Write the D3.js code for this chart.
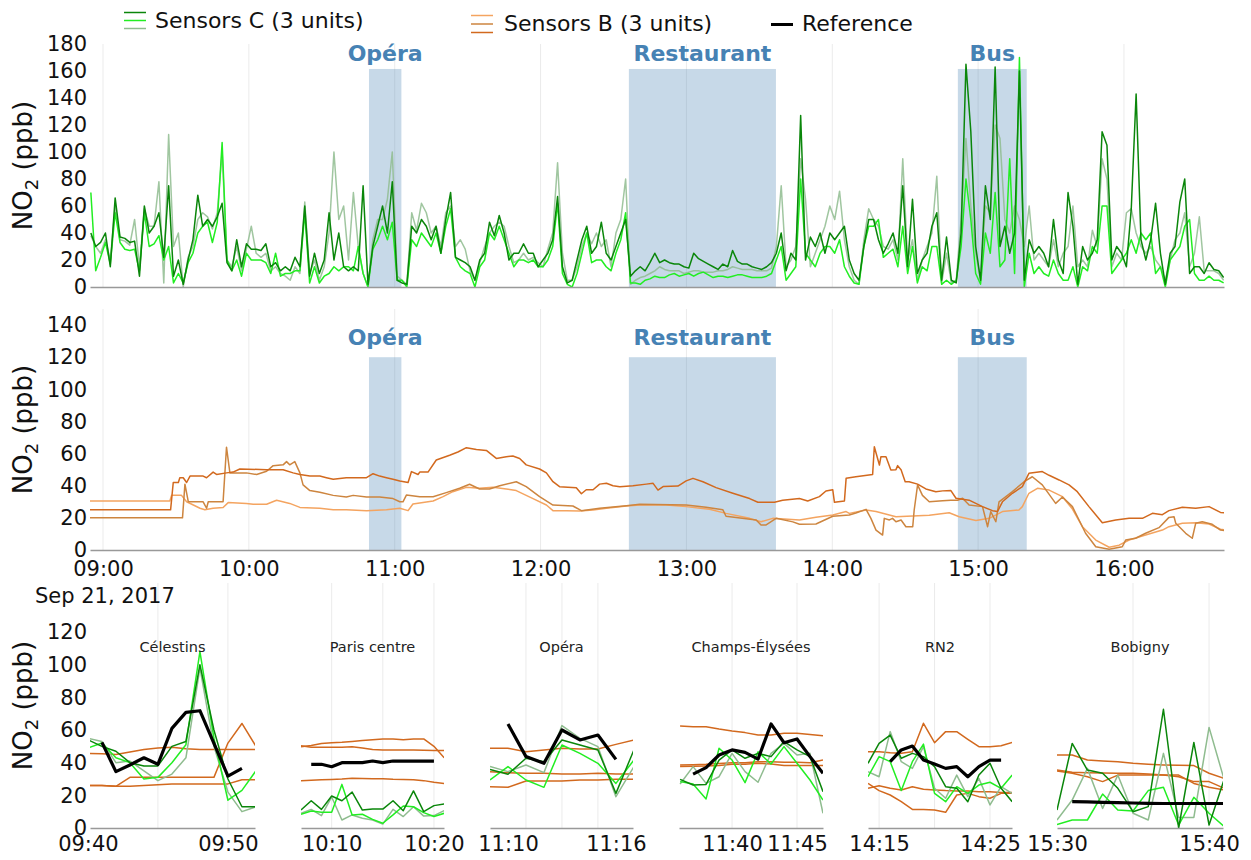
<!DOCTYPE html>
<html><head><meta charset="utf-8">
<script src="https://cdn.jsdelivr.net/npm/d3@7/dist/d3.min.js"></script>
<style>body{margin:0;background:#fff} svg{display:block}</style>
</head><body><svg id="c" width="1251" height="860"></svg>
<script>
// ---------------- DATA ----------------
// Top panel: Sensors C, one sample every 2 minutes starting 08:55
const topFirstSample = "08:55";
const topStepMinutes = 2;
const sensorC1 = [
40,30,33,40,15,66,37,36,33,34,8,60,40,45,55,
22,75,8,20,2,20,35,68,45,50,45,52,62,18,12,
35,15,32,28,28,27,32,15,18,12,15,12,22,15,60,
8,25,10,20,55,20,40,15,12,15,12,75,2,30,45,
60,40,78,5,3,2,45,40,50,45,35,45,25,50,70,
22,20,18,15,5,20,25,48,38,53,40,20,25,25,32,
25,25,15,20,25,35,67,15,3,5,20,35,45,25,30,
48,25,20,30,40,50,8,12,15,12,18,25,18,20,18,
17,17,15,14,25,21,19,17,15,13,17,15,27,19,17,
17,15,14,13,15,18,25,40,12,25,20,127,20,37,30,
40,25,40,35,40,45,20,10,5,30,50,50,35,25,32,
40,25,75,15,65,10,20,25,45,55,5,37,5,3,40,
165,115,30,5,75,50,163,30,45,25,40,160,5,35,25,
30,25,15,50,20,10,70,45,2,30,20,25,35,115,105,
20,30,25,15,58,143,35,20,35,62,25,2,25,30,63,
80,10,15,15,10,18,13,12,7];
const sensorC2 = [
70,12,22,33,17,55,33,28,27,28,12,55,30,32,38,
20,30,3,10,3,18,25,40,45,48,33,48,107,20,12,
20,8,25,20,20,20,18,10,25,8,10,10,12,12,55,
3,15,3,8,10,15,12,15,15,12,30,10,0,28,35,
45,35,48,5,5,0,35,30,40,35,30,40,25,45,58,
22,15,12,10,0,15,20,40,35,45,35,25,15,20,20,
18,20,15,15,20,30,62,10,2,0,10,25,40,18,20,
20,15,12,25,35,55,3,3,2,5,6,8,7,7,9,
10,8,9,10,8,10,11,9,7,8,8,7,8,9,9,
8,7,7,7,8,10,20,30,5,10,15,80,25,20,15,
25,30,30,25,35,15,8,3,2,30,45,45,50,22,25,
28,15,45,10,30,3,15,12,30,30,2,5,2,5,30,
80,50,10,2,40,25,70,15,20,95,10,170,0,25,10,
15,10,8,20,10,5,5,15,0,15,12,30,25,60,60,
10,15,20,25,35,25,40,35,40,10,15,0,20,25,30,
45,50,10,5,5,8,5,5,3];
const sensorC3 = [
38,30,25,35,20,60,35,34,31,50,15,58,45,45,78,
3,113,30,40,0,22,30,50,55,52,43,55,100,20,15,
30,12,28,45,25,22,25,12,15,10,8,5,15,10,63,
10,20,5,15,40,100,50,60,20,70,30,10,0,35,50,
50,65,100,8,5,2,55,42,62,55,40,45,30,55,60,
30,35,28,12,5,18,30,40,45,48,45,30,18,20,25,
20,22,18,15,28,40,92,25,5,5,15,30,40,32,40,
30,35,15,40,50,80,2,5,7,8,10,12,15,13,12,
12,12,10,11,12,12,11,11,11,12,12,13,15,14,13,
13,13,12,12,12,14,30,75,15,20,30,95,65,15,25,
35,45,60,50,71,35,15,5,2,35,58,50,45,30,28,
35,20,95,20,35,5,20,30,40,82,3,25,3,5,50,
110,60,25,5,60,55,120,110,50,40,60,50,30,60,20,
25,20,15,35,15,25,30,60,15,20,15,42,30,95,80,
15,25,20,55,58,40,30,25,30,20,15,5,20,35,40,
55,15,25,52,12,12,12,10,5];

// Middle panel: Sensors B, [minutes after 09:00, ppb]
const sensorB1 = [[-5.4,25],[27.8,25],[28.9,42],[31,42],[31.6,45],[33,45],[34.4,42],[35.8,46],[41.2,46],[42.6,45],[45.3,48.5],[46.7,47],[50.8,48],[53.5,48.5],[56.3,50.4],[67.3,50],[74.1,50],[78.2,48],[81,47],[85.1,46],[89.2,46],[91.9,45],[94.7,44],[100.1,45],[108.4,45],[111.1,47.5],[113.8,46],[116.6,45],[119.3,44],[122.1,43],[125.5,42],[126.9,48.8],[129.6,47],[130.3,48.5],[133.7,48.5],[137.1,56],[142.6,59],[146,61],[149.5,63.7],[153.6,62.5],[157.7,62],[161.8,57],[165.9,58],[168.6,58.5],[171.4,57],[174.1,53],[179.6,50.4],[182.4,48],[185.1,42.5],[187.8,39.4],[194.7,38.8],[196.8,35],[198.8,37.5],[201.6,37.5],[204.3,41],[207.1,41.5],[209.8,40],[212.6,39.4],[218,40],[223.5,41],[226.3,41.5],[228.3,37.3],[230.4,39.5],[236.5,39.8],[239.9,43],[242.7,44.6],[246.8,42.5],[252.2,38.8],[259.1,35.3],[266,32],[269.4,29.7],[276.2,29.7],[279.6,31],[286.5,32],[289.9,30.5],[294.7,33.2],[297.4,36.7],[300.2,37.5],[300.9,29.7],[305,30.5],[305.7,44.6],[309.7,45.6],[316.6,47],[317.3,64.3],[319.4,52.9],[320,58],[322.1,58],[324.1,49.8],[326.2,50],[326.9,52.5],[328.3,50],[330,42.5],[331.6,42.5],[335.1,41],[338.5,38],[342.6,36.3],[345.4,36.8],[348.8,37],[350.9,32.2],[356.3,31],[361.8,27],[365.9,24.5],[368,24],[370,30],[374.1,35.3],[378.2,39.4],[380.9,47.7],[386.4,48.8],[389.2,46.5],[393.3,43.6],[397.4,40.5],[400.8,36.3],[405.6,27],[411.1,17],[416.6,18.7],[422.1,19.7],[427.6,19.7],[431.7,22.8],[435.8,22],[438.5,24.5],[444,26.6],[449.5,26],[455,27],[459.7,23.4],[462,23]];
const sensorB2 = [[-5.4,20],[32.7,20],[33.7,41],[35.1,30],[41.2,30],[42.6,26],[43.3,30],[49.4,30],[50.8,64],[52.2,48],[59,48],[63.2,47],[67.3,49],[70,52.5],[74.1,53],[75.5,55],[76.8,53],[78.9,55],[81,48],[82.3,40.5],[85.1,37],[89.2,36],[94.7,34],[100.1,33],[102.9,34],[108.4,33],[113.8,33],[119.3,32],[122.1,30],[123.4,30],[124.8,34.2],[130.3,33.2],[135.8,33.2],[141.2,35.7],[146.7,38.4],[150.8,40.9],[154.9,38],[159,38],[163.2,40],[170,42.5],[174.1,39.4],[179.6,33.2],[185.1,28],[193.3,27.4],[196.8,24.5],[204.3,26],[215.3,27.6],[220.8,28.4],[239.9,28],[248.1,26.6],[255,25],[256.3,21],[268.7,18.7],[270.7,15.6],[272.8,15.6],[276.9,19.7],[283.8,17.5],[286.5,16],[293.3,16.2],[300.2,21],[307,21.8],[309.7,23],[313.9,25.3],[315.9,19.7],[318,12.4],[320.7,9.3],[321.4,19.7],[323.5,18.7],[324.8,19.7],[326.2,17.6],[328.3,18.7],[330.3,14.5],[333.1,14.5],[333.7,24.9],[335.1,40.5],[337.1,34],[339.9,30],[345.4,30.7],[348.8,31],[351.6,31],[353.6,32.2],[356.3,28],[361.8,27],[363.9,14.5],[365.2,23.9],[367.3,17.6],[368.6,30],[374.1,36.3],[378.9,42.5],[382.3,45.6],[386.4,40.5],[391.9,29],[394.7,33],[398.8,27],[404.2,10.4],[408.4,2],[413.9,0.4],[419.3,2],[420.7,6.2],[424.8,7.3],[428.9,10.4],[434.4,13.9],[438.5,20.3],[440.6,20.7],[441.3,16.6],[445.4,10.4],[448.1,7.3],[449.5,16.6],[452.2,17.6],[456.3,16],[459.7,12.4],[462,12]];
const sensorB3 = [[-5.4,30.5],[27.5,30.5],[28.2,34],[32.3,34],[34.4,30],[39.9,26],[41.9,25],[45.3,26],[49.4,26.5],[51.5,29.5],[59,29],[61.8,28.5],[67.3,28.5],[71.4,31],[72.7,30.5],[76.8,29],[81,26.5],[89.2,26],[94.7,25],[100.1,25],[108.4,24.5],[116.6,25],[122.1,26],[125.5,24.5],[127.5,28.6],[135.8,30.5],[139.9,33.2],[143.9,36.3],[149.5,39],[154.9,38.4],[160.4,39],[165.9,38],[170,37],[176.9,32],[182.4,28],[185.1,24.5],[190.6,24.5],[196.1,24.3],[201.6,24.9],[207.1,26],[215.3,27.4],[220.8,28],[231.7,28],[239.9,27],[249.5,25.3],[256.3,22.8],[266,19.7],[270.7,17.6],[275.5,19.7],[286.5,18.7],[293.3,20.4],[300.2,21.8],[305.7,23.9],[307,22.8],[313.9,24.9],[318,24],[326.2,20.7],[339.9,21.7],[348.1,23.2],[352.2,20.7],[359.1,18.3],[364.6,19.7],[370,23.9],[376.8,24.9],[378.2,27],[380.9,35.3],[384.4,38.4],[389.2,37.3],[394.7,33.2],[398.8,25.5],[402.9,14.5],[408.4,6.2],[413.9,1.7],[418,3],[422.1,6.2],[428.9,9.3],[435.8,12.4],[438.5,14.5],[444,16.6],[449.5,17],[455,16.2],[459.7,12.9],[462,12.5]];

// Activity periods
const eventNames = ["Opéra", "Restaurant", "Bus"];
const eventStart = ["10:49:25", "12:36:20", "14:51:40"];
const eventEnd   = ["11:02:45", "13:36:50", "15:20:00"];
const shadeTopValue = {top: 161.5, mid: 120};

const hourTicks = ["09:00","10:00","11:00","12:00","13:00","14:00","15:00","16:00"];
const mainDomain = ["08:54:39", "16:41:09"];
const topYTicks = [0,20,40,60,80,100,120,140,160,180];
const midYTicks = [0,20,40,60,80,100,120,140];
const botYTicks = [0,20,40,60,80,100,120];

// Bottom panels (one sample per minute)
const siteNames = ["Célestins","Paris centre","Opéra","Champs-Élysées","RN2","Bobigny"];
const siteDomain = [["09:40:09","09:51:56"],["10:07:00","10:20:59"],["11:09:00","11:16:57"],["11:35:55","11:47:00"],["14:14:00","14:26:59"],["15:30:00","15:40:55"]];
const siteFirstSample = ["09:40","10:07","11:09","11:36","14:14","15:30"];
const siteRefFirstSample = ["09:41","10:08","11:10","11:37","14:16","15:31"];
const siteTickLabels = [["09:40","09:50"],["10:10","10:20"],["11:10","11:16"],["11:40","11:45"],["14:15","14:25"],["15:30","15:40"]];
const siteGrid = [["09:45","09:50"],["10:10","10:15","10:20"],["11:11","11:13","11:15"],["11:40","11:45"],["14:15","14:20","14:25"],["15:35","15:40"]];
const siteC1 = [
 [54,50,47,40,38,38,50,53,100,60,30,13,13],
 [11,16.7,11.4,19.6,16.7,22,11,11.6,11.6,16.7,10.6,22.7,10,13.7,14.7],
 [35.9,32.9,42.7,40.6,53.9,50.8,47.8,21.2,47.8],
 [29.8,26.3,26.7,41.6,47.8,42.7,45.7,43.7,52.9,47.8,43.7,22.2],
 [39.6,51.8,56.9,42.7,45.7,43.7,37.6,25.3,24.3,16.1,32.4,39.6,24.3,16.1],
 [11,51.8,35.5,33.5,24.3,10,13.1,72.7,0,52.4,1.8,30]];
const siteC2 = [
 [49,52,43,40,30,31,40,51,108,55,17,23,35],
 [8.4,10.4,9.6,9.6,26.7,8,8.4,5.3,2.9,8,13.5,13,9.4,7,9],
 [29.4,37.6,29.4,24.9,50.8,45.7,39.6,27.3,41.6],
 [28.4,26.9,17.8,48.8,41.6,27.8,46.7,39.2,49.8,39.6,29.4,17.1],
 [31.4,43.7,40.6,22.9,40.6,51.4,21.2,16.1,25.3,21.2,26.3,28,24.3,32.4],
 [2.2,4.9,4.9,20.8,11,10.4,22.9,24.9,1.8,18.8,9,0.8]];
const siteC3 = [
 [55,53,40,41,35,29,33,43,98,50,22,10,13],
 [9,11.4,7.6,19,4.9,8,6,4.9,2.4,11.4,7,13,7.3,7.6,10.6],
 [37.6,34.5,38.6,33.9,62.7,54.9,49.8,19.2,37.6],
 [26.9,37.6,27.3,31.4,45.7,34.5,28,45.7,51.8,44.7,45.7,9],
 [34.5,31.4,59,40.6,36.5,49.8,24.3,18.2,32.4,19.2,30.4,14.1,25.3,21.2],
 [4.9,17.1,36.5,12,32.4,9,4.9,45.7,6.5,6.5,61.6,29.4]];
const siteB1 = [
 [45.7,45.5,45,46.5,48,49,49.5,48.5,48,48,48,48,48],
 [50.4,49.5,49.5,49.5,49.5,49.8,49,48,47.8,47.8,47.8,47.8,47.6,47.5,47.5],
 [48.8,48.8,46.7,47.8,48.8,48.4,48.4,51.2,53.9],
 [62.4,62,62,60.6,59.4,58.4,56.9,56.9,58,58,57.3,56.5],
 [46.7,46.7,46.1,45.7,46.7,64.1,52.2,59,59,54.3,49.8,49.8,50.4,52.4],
 [44.7,44.7,41.6,41,40.6,39.6,39,38.6,38.4,38.2,33.5,30.4]];
const siteB2 = [
 [26,26,25.5,31,31,31,31,31,31,31,52,64,50],
 [49.8,50.5,51.8,52.2,52.5,53,53.5,54,54.5,54.5,54,54.5,54.5,50,43],
 [34.5,33.9,33.5,33.5,33,33,33.5,33,33],
 [38.6,38.8,39,39.5,40,40,40.6,40.6,40.2,40.2,40,41.6],
 [27.3,22.9,20.2,16.1,11.4,11.4,11,9.6,20.2,21.2,19.2,18.2,21.2,21.2],
 [35.5,34.1,33.9,33.7,33.5,33.5,33,32.4,31.4,28.4,28.4,24.3]];
const siteB3 = [
 [26,26,25.5,25.5,26,26.5,27,27,27,27,27,29.5,29.5],
 [29,29.2,29.5,29.7,30,30.5,30.3,30.2,30.2,29.8,29.7,29.6,29,28,27.3],
 [25.3,24.9,28.8,28.8,28.8,29.4,29.4,29.8,29.8],
 [37.6,37.8,38,38.2,39,39,39.6,39.2,38.2,38.2,38.2,38.2],
 [24.3,25.9,24.3,23.3,25.3,23.7,23.3,22.9,22.7,22.7,22.2,22.2,21.8,21.8],
 [34.9,33.5,31.4,28.4,32.4,32.4,32.4,32.4,32.4,27.3,25,23.3]];
const siteRef = [
 [52.4,34.5,38.6,43,39,61,70.8,71.8,51.8,31.8,36.5],
 [39,39,37.5,40,40,40,41,40,41,41,41,41,41],
 [63.7,43.7,39.6,60,53.9,56.9,42],
 [33,37,44.7,47.8,46.3,42.2,63.7,52.2,54.5,43.7,33.5],
 [40.6,47.8,50.2,41.6,39.2,36.5,37.6,31.4,37.6,41.6,41.6],
 [16.1,16,15.7,15.5,15.3,15.1,15,15,15,15,15]];

const legendLabels = ["Sensors C (3 units)", "Sensors B (3 units)", "Reference"];

// ---------------- STYLE / LAYOUT ----------------
const FONT = '"DejaVu Sans", Verdana, sans-serif';
const colC = ["#0a860a", "#22ee22", "#8fbc8f"];
const colB = ["#d2691e", "#cd853f", "#f4a460"];
const shadeColor = "steelblue";
const gridColor = "#ebebeb";
const axisColor = "#999";
const tickFont = 21;
const plotX = [90, 1224];
const topY = [287, 44], midY = [550, 309], botY = [828, 583];
const panelX = [[90,255],[301,444],[490,633],[679,823],[868,1012],[1057,1223]];

// ---------------- HELPERS ----------------
const svg = d3.select("#c");
const T = s => { const p = s.split(":").map(Number); return new Date(2017, 8, 21, p[0], p[1], p[2] || 0); };
const addMin = (d, m) => new Date(d.getTime() + m * 60000);
let clipId = 0;
function clip(x0, x1, y0, y1) {
  const id = "clip" + (clipId++);
  svg.append("clipPath").attr("id", id).append("rect")
    .attr("x", x0).attr("y", y0).attr("width", x1 - x0).attr("height", y1 - y0);
  return "url(#" + id + ")";
}
function styleAxis(g, size) {
  g.attr("font-family", FONT).attr("font-size", size);
  g.selectAll("text").attr("fill", "#111");
}
function yAxis(y, ticks, x) {
  const g = svg.append("g").attr("transform", `translate(${x},0)`)
    .call(d3.axisLeft(y).tickValues(ticks).tickSize(0).tickPadding(3).tickFormat(d3.format("d")));
  g.select(".domain").remove();
  styleAxis(g, tickFont);
}
function yTitle(cy) {
  const t = svg.append("text").attr("transform", `translate(32,${cy}) rotate(-90)`)
    .attr("text-anchor", "middle").attr("font-family", FONT).attr("font-size", 26).attr("fill", "#111");
  t.append("tspan").text("NO");
  t.append("tspan").attr("font-size", 18).attr("dy", 6).text("2");
  t.append("tspan").attr("dy", -6).text(" (ppb)");
}

// ---------------- MAIN SCALES ----------------
const xMain = d3.scaleTime().domain(mainDomain.map(T)).range(plotX);
const yTop = d3.scaleLinear().domain([0, 180]).range(topY);
const yMid = d3.scaleLinear().domain([0, 150]).range(midY);
const yBot = d3.scaleLinear().domain([0, 150]).range(botY);

// ---------------- TOP & MIDDLE PANELS ----------------
function mainPanel(y, yr, shadeVal, labelY) {
  svg.append("g").selectAll("line").data(hourTicks.map(T)).join("line")
    .attr("x1", d => xMain(d)).attr("x2", d => xMain(d))
    .attr("y1", yr[1]).attr("y2", yr[0]).attr("stroke", gridColor).attr("stroke-width", 1);
  const g = svg.append("g");
  eventNames.forEach((n, i) => {
    const x0 = xMain(T(eventStart[i])), x1 = xMain(T(eventEnd[i]));
    g.append("rect").attr("x", x0).attr("width", x1 - x0)
      .attr("y", y(shadeVal)).attr("height", y(0) - y(shadeVal))
      .attr("fill", shadeColor).attr("opacity", 0.3);
    g.append("text").attr("x", (x0 + x1) / 2).attr("y", labelY).attr("text-anchor", "middle")
      .attr("font-family", FONT).attr("font-size", 22).attr("font-weight", "bold")
      .attr("fill", "steelblue").text(n);
  });
}

// Top
mainPanel(yTop, topY, shadeTopValue.top, 61);
const topClip = clip(plotX[0], plotX[1], topY[1] - 5, topY[0] + 1);
const t0 = T(topFirstSample);
const topSeries = [[sensorC3, colC[2], 0.85], [sensorC2, colC[1], 1], [sensorC1, colC[0], 1]];
const lineTop = d3.line().x((d, i) => xMain(addMin(t0, i * topStepMinutes))).y(d => yTop(d));
topSeries.forEach(([vals, c, op]) => {
  svg.append("path").datum(vals).attr("d", lineTop).attr("fill", "none")
    .attr("stroke", c).attr("stroke-width", 1.5).attr("opacity", op)
    .attr("stroke-linejoin", "round").attr("clip-path", topClip);
});
{
  const g = svg.append("g").attr("transform", `translate(0,${topY[0]})`)
    .call(d3.axisBottom(xMain).tickValues([]).tickSizeOuter(0));
  g.select(".domain").attr("stroke", axisColor).attr("stroke-width", 1.3);
}
yAxis(yTop, topYTicks, 90);
yTitle((topY[0] + topY[1]) / 2);

// Middle
mainPanel(yMid, midY, shadeTopValue.mid, 345);
const midClip = clip(plotX[0], plotX[1], midY[1] - 5, midY[0] + 1);
const base9 = T("09:00");
const lineMid = d3.line().x(d => xMain(addMin(base9, d[0]))).y(d => yMid(d[1]));
[[sensorB3, colB[2]], [sensorB2, colB[1]], [sensorB1, colB[0]]].forEach(([vals, c]) => {
  svg.append("path").datum(vals).attr("d", lineMid).attr("fill", "none")
    .attr("stroke", c).attr("stroke-width", 1.5).attr("stroke-linejoin", "round").attr("clip-path", midClip);
});
{
  const g = svg.append("g").attr("transform", `translate(0,${midY[0]})`)
    .call(d3.axisBottom(xMain).tickValues(hourTicks.map(T)).tickFormat(d3.timeFormat("%H:%M"))
      .tickSize(0).tickSizeOuter(0).tickPadding(11));
  g.select(".domain").attr("stroke", axisColor).attr("stroke-width", 1.3);
  styleAxis(g, tickFont);
}
yAxis(yMid, midYTicks, 90);
yTitle((midY[0] + midY[1]) / 2);

// ---------------- BOTTOM PANELS ----------------
siteNames.forEach((name, i) => {
  const xs = d3.scaleTime().domain(siteDomain[i].map(T)).range(panelX[i]);
  svg.append("g").selectAll("line").data(siteGrid[i].map(T)).join("line")
    .attr("x1", d => xs(d)).attr("x2", d => xs(d)).attr("y1", botY[1]).attr("y2", botY[0])
    .attr("stroke", gridColor).attr("stroke-width", 1);
  const cp = clip(panelX[i][0], panelX[i][1], botY[1], botY[0] + 1);
  const s0 = T(siteFirstSample[i]), r0 = T(siteRefFirstSample[i]);
  const ln = start => d3.line().x((d, k) => xs(addMin(start, k))).y(d => yBot(d));
  const series = [
    [siteB3[i], colB[0], 1.5, s0], [siteB2[i], colB[0], 1.5, s0], [siteB1[i], colB[0], 1.5, s0],
    [siteC3[i], colC[2], 1.5, s0], [siteC2[i], colC[1], 1.5, s0], [siteC1[i], colC[0], 1.5, s0],
    [siteRef[i], "#000", 3.2, r0]];
  series.forEach(([vals, c, w, st]) => {
    svg.append("path").datum(vals).attr("d", ln(st)).attr("fill", "none")
      .attr("stroke", c).attr("stroke-width", w).attr("stroke-linejoin", "round").attr("clip-path", cp);
  });
  const g = svg.append("g").attr("transform", `translate(0,${botY[0]})`)
    .call(d3.axisBottom(xs).tickValues(siteTickLabels[i].map(T)).tickFormat(d3.timeFormat("%H:%M"))
      .tickSize(0).tickSizeOuter(0).tickPadding(8));
  g.select(".domain").attr("stroke", axisColor).attr("stroke-width", 1.3);
  styleAxis(g, tickFont);
  svg.append("text").attr("x", (panelX[i][0] + panelX[i][1]) / 2).attr("y", 652)
    .attr("text-anchor", "middle").attr("font-family", FONT).attr("font-size", 14.5)
    .attr("fill", "#222").text(name);
});
yAxis(yBot, botYTicks, 90);
yTitle((botY[0] + botY[1]) / 2);
svg.append("text").attr("x", 35).attr("y", 603).attr("font-family", FONT).attr("font-size", 21)
  .attr("fill", "#111").text("Sep 21, 2017");

// ---------------- LEGEND ----------------
const lg = svg.append("g").attr("font-family", FONT).attr("font-size", 22).attr("fill", "#111");
[12.5, 20.5, 28.5].forEach((y, k) => lg.append("line").attr("x1", 124).attr("x2", 146)
  .attr("y1", y).attr("y2", y).attr("stroke", colC[k]).attr("stroke-width", 1.5));
lg.append("text").attr("x", 155).attr("y", 28).text(legendLabels[0]);
[15.5, 24, 32.5].forEach((y, k) => lg.append("line").attr("x1", 471).attr("x2", 493)
  .attr("y1", y).attr("y2", y).attr("stroke", colB[2 - k]).attr("stroke-width", 1.5));
lg.append("text").attr("x", 504).attr("y", 30.5).text(legendLabels[1]);
lg.append("line").attr("x1", 771).attr("x2", 793).attr("y1", 24.5).attr("y2", 24.5)
  .attr("stroke", "#000").attr("stroke-width", 3);
lg.append("text").attr("x", 802).attr("y", 30.5).text(legendLabels[2]);
</script></body></html>
